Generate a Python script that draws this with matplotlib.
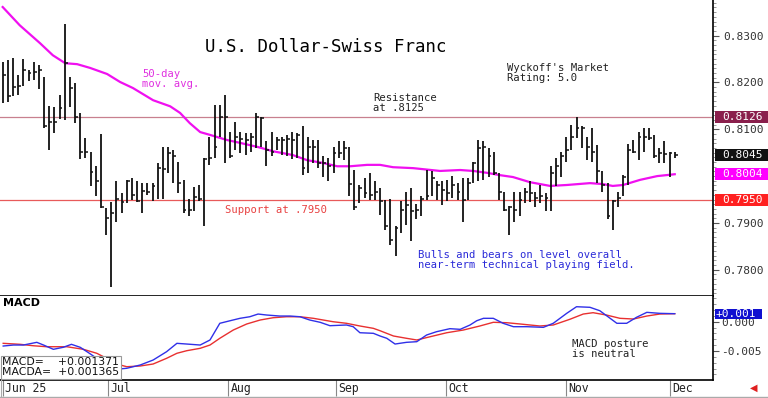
import matplotlib
matplotlib.use("Agg")
import matplotlib.pyplot as plt
from matplotlib.patches import Rectangle
from matplotlib.lines import Line2D

# daily bars, trading-day index 0 = Jun 2 2025 ... last = Dec 2
high = [0.8244, 0.8248, 0.8252, 0.8216, 0.8249, 0.8227, 0.8244, 0.8237, 0.8211, 0.8150,
        0.8148, 0.8173, 0.8325, 0.8212, 0.8198, 0.8134, 0.8081, 0.8052, 0.8021, 0.8090,
        0.7932, 0.7944, 0.7989, 0.7964, 0.7992, 0.7996, 0.7989, 0.7986, 0.7986, 0.7986,
        0.8028, 0.8063, 0.8063, 0.8055, 0.8031, 0.7992, 0.7951, 0.7976, 0.7981, 0.8038,
        0.8083, 0.8152, 0.8152, 0.8173, 0.8095, 0.8116, 0.8095, 0.8092, 0.8092, 0.8134,
        0.8127, 0.8074, 0.8095, 0.8084, 0.8084, 0.8088, 0.8095, 0.8093, 0.8106, 0.8084,
        0.8077, 0.8077, 0.8042, 0.8038, 0.8063, 0.8074, 0.8074, 0.8063, 0.8013, 0.7981,
        0.7996, 0.8006, 0.7989, 0.7974, 0.7949, 0.7951, 0.7893, 0.7946, 0.7967, 0.7974,
        0.7941, 0.7957, 0.8013, 0.8010, 0.7989, 0.7989, 0.7992, 0.8001, 0.7986, 0.7996,
        0.7996, 0.8031, 0.8077, 0.8074, 0.8060, 0.8052, 0.8006, 0.7967, 0.7937, 0.7965,
        0.7965, 0.7974, 0.7989, 0.7967, 0.7981, 0.7964, 0.8021, 0.8038, 0.8052, 0.8084,
        0.8109, 0.8126, 0.8106, 0.8084, 0.8102, 0.8067, 0.8010, 0.7985, 0.7949, 0.7967,
        0.8003, 0.8069, 0.8077, 0.8095, 0.8102, 0.8102, 0.8088, 0.8060, 0.8074, 0.8052,
        0.8052]
low = [0.8156, 0.8159, 0.8170, 0.8173, 0.8193, 0.8202, 0.8205, 0.8185, 0.8102, 0.8056,
       0.8093, 0.8121, 0.8120, 0.8148, 0.8114, 0.8036, 0.8038, 0.7978, 0.7957, 0.7932,
       0.7875, 0.7763, 0.7901, 0.7921, 0.7942, 0.7949, 0.7944, 0.7921, 0.7960, 0.7946,
       0.7951, 0.7951, 0.8006, 0.7985, 0.7964, 0.7921, 0.7914, 0.7925, 0.7946, 0.7893,
       0.8024, 0.8038, 0.8084, 0.8029, 0.8038, 0.8056, 0.8049, 0.8045, 0.8052, 0.8060,
       0.8063, 0.8021, 0.8042, 0.8056, 0.8045, 0.8042, 0.8036, 0.8038, 0.8003, 0.8006,
       0.8028, 0.8017, 0.7999, 0.7989, 0.8006, 0.8038, 0.8035, 0.7957, 0.7928, 0.7942,
       0.7953, 0.7949, 0.7949, 0.7917, 0.7885, 0.7853, 0.7829, 0.7878, 0.7896, 0.7861,
       0.7908, 0.7914, 0.7949, 0.7957, 0.7949, 0.7939, 0.7946, 0.7953, 0.7949, 0.7903,
       0.7949, 0.7985, 0.7989, 0.7992, 0.7999, 0.8003, 0.7949, 0.7925, 0.7875, 0.7903,
       0.7914, 0.7942, 0.7944, 0.7935, 0.7942, 0.7925, 0.7925, 0.7978, 0.7999, 0.8031,
       0.8056, 0.8081, 0.8060, 0.8035, 0.8031, 0.7985, 0.7967, 0.7908, 0.7885, 0.7935,
       0.7957, 0.7981, 0.8049, 0.8035, 0.8052, 0.8077, 0.8038, 0.8028, 0.8028, 0.7998,
       0.8038]
close = [0.8216, 0.8170, 0.8191, 0.8193, 0.8227, 0.8221, 0.8223, 0.8227, 0.8106, 0.8116,
         0.8116, 0.8145, 0.8241, 0.8188, 0.8127, 0.8052, 0.8052, 0.8008, 0.7989, 0.7935,
         0.7910, 0.7921, 0.7951, 0.7944, 0.7989, 0.7960, 0.7946, 0.7969, 0.7967, 0.7978,
         0.8017, 0.8015, 0.8049, 0.8042, 0.7985, 0.7927, 0.7927, 0.7955, 0.7952, 0.8036,
         0.8038, 0.8063, 0.8127, 0.8126, 0.8042, 0.8084, 0.8079, 0.8077, 0.8084, 0.8127,
         0.8124, 0.8056, 0.8052, 0.8077, 0.8077, 0.8079, 0.8077, 0.8088, 0.8017, 0.8063,
         0.8063, 0.8029, 0.8028, 0.8021, 0.8049, 0.8049, 0.8060, 0.7984, 0.7935, 0.7974,
         0.7964, 0.7960, 0.7967, 0.7946, 0.7893, 0.7864, 0.7889, 0.7927, 0.7939, 0.7925,
         0.7927, 0.7951, 0.7957, 0.7996, 0.7981, 0.7971, 0.7964, 0.7981, 0.7967, 0.7949,
         0.7985, 0.8028, 0.8060, 0.8063, 0.8042, 0.8006, 0.7967, 0.7927, 0.7934, 0.7928,
         0.7949, 0.7965, 0.7964, 0.7953, 0.7957, 0.7953, 0.8006, 0.8021, 0.8042, 0.8056,
         0.8084, 0.8102, 0.8102, 0.8063, 0.8052, 0.8010, 0.7981, 0.7914, 0.7946, 0.7953,
         0.7999, 0.8056, 0.8052, 0.8084, 0.8084, 0.8081, 0.8042, 0.8049, 0.8048, 0.8049,
         0.8045]

# 50-day moving average
ma_idx = [0, 3.3, 7.2, 9.7, 12.1, 14.4, 16.9, 20.2, 22.7, 25.2, 29.1, 32.4, 34.3, 36.2, 38.2,
          40.1, 43.4, 45.9, 49.4, 52.3, 56.1, 58.9, 62.0, 64.7, 67.2, 70.5, 73.0, 75.5, 79.4,
          84.6, 88.5, 91.0, 93.7, 96.2, 98.7, 102.0, 105.9, 109.1, 113.6, 116.1, 118.0, 120.0,
          123.3, 126.6, 130.0]
ma_val = [0.8361, 0.8322, 0.8284, 0.8258, 0.8241, 0.8239, 0.8231, 0.8218, 0.8201, 0.8188,
          0.8162, 0.8149, 0.8135, 0.8113, 0.8094, 0.8088, 0.8077, 0.8071, 0.8062, 0.8053,
          0.8045, 0.8034, 0.8028, 0.8021, 0.8021, 0.8024, 0.8024, 0.8019, 0.8017, 0.8011,
          0.8013, 0.8011, 0.8007, 0.8002, 0.7998, 0.7987, 0.7979, 0.7981, 0.7985, 0.7983,
          0.7979, 0.7981, 0.7992, 0.8000, 0.8004]

# MACD (blue) and its average (red)
macd_idx = [0.1, 2.1, 4.0, 6.6, 7.9, 9.8, 11.7, 13.3, 15.0, 16.6, 18.2, 20.1, 22.0, 24.0,
            26.6, 29.1, 31.7, 33.7, 35.6, 38.2, 40.1, 42.0, 44.0, 45.9, 47.8, 49.4, 51.1,
            53.6, 55.6, 57.5, 59.4, 61.4, 63.3, 66.5, 67.8, 69.1, 71.7, 73.0, 74.3, 75.9,
            76.8, 78.1, 80.1, 82.0, 83.9, 86.5, 88.5, 90.4, 91.7, 93.0, 94.9, 96.8, 98.8,
            101.4, 104.6, 106.5, 109.1, 111.0, 113.6, 115.5, 117.5, 118.8, 120.7, 122.6,
            124.6, 127.1, 130.0]
macd_val = [-0.00415, -0.00398, -0.00398, -0.00352, -0.00398, -0.00471, -0.00437, -0.00386,
            -0.00437, -0.00529, -0.00625, -0.00768, -0.00812, -0.00795, -0.00739, -0.00654,
            -0.00512, -0.00369, -0.00381, -0.00398, -0.00312, -0.00027, 0.00017, 0.00058,
            0.00085, 0.00131, 0.00114, 0.00097, 0.00097, 0.00085, 0.00029, -0.00010,
            -0.00068, -0.00056, -0.00085, -0.00188, -0.00198, -0.00244, -0.00283, -0.00381,
            -0.00369, -0.00352, -0.00341, -0.00227, -0.00171, -0.00119, -0.00130, -0.00056,
            0.00017, 0.00058, 0.00058, -0.00027, -0.00085, -0.00085, -0.00096, -0.00027,
            0.00143, 0.00256, 0.00246, 0.00188, 0.00058, -0.00027, -0.00027, 0.00075,
            0.00160, 0.00143, 0.00137]
sig_idx = [0.1, 3.4, 5.9, 8.5, 12.4, 15.6, 18.2, 20.1, 22.0, 24.0, 26.6, 29.1, 31.7, 33.7,
           35.6, 38.2, 40.1, 42.0, 44.6, 47.2, 49.8, 52.3, 54.9, 57.5, 60.1, 63.9, 66.5,
           69.1, 71.7, 73.0, 75.6, 78.1, 80.1, 82.7, 85.9, 89.1, 92.3, 94.9, 97.5, 100.1,
           103.9, 106.5, 109.7, 112.3, 114.2, 116.8, 119.4, 122.0, 124.6, 127.1, 130.0]
sig_val = [-0.00369, -0.00386, -0.00410, -0.00427, -0.00427, -0.00471, -0.00539, -0.00625,
           -0.00722, -0.00768, -0.00756, -0.00722, -0.00625, -0.00539, -0.00495, -0.00454,
           -0.00398, -0.00283, -0.00142, -0.00039, 0.00029, 0.00068, 0.00085, 0.00085,
           0.00058, 0.00000, -0.00027, -0.00073, -0.00113, -0.00154, -0.00244, -0.00283,
           -0.00312, -0.00256, -0.00188, -0.00142, -0.00073, -0.00010, -0.00017, -0.00039,
           -0.00073, -0.00056, 0.00041, 0.00131, 0.00154, 0.00114, 0.00058, 0.00046,
           0.00097, 0.00131, 0.00137]

month_pos = [0, 20.4, 43.6, 64.5, 85.7, 109, 129.1]
month_lbl = ["Jun 25", "Jul", "Aug", "Sep", "Oct", "Nov", "Dec"]
price_ticks = [0.78, 0.79, 0.81, 0.82, 0.83]
macd_ticks = [-0.005, 0.0]

resistance = 0.8126
support = 0.7950
last_close = 0.8045
last_ma = 0.8004
last_macd = 0.001371
last_macda = 0.001365

MONO = "DejaVu Sans Mono"
LBL = 8.0
W, H = 768, 398
idx = list(range(len(close)))

fig = plt.figure(figsize=(W / 100, H / 100), dpi=100)
ax = fig.add_axes([0, 1 - 296 / H, 713 / W, 296 / H])
axm = fig.add_axes([0, 1 - 380 / H, 713 / W, 84 / H], sharex=ax)

# --- price panel ---
ax.axhline(resistance, color="#c8808f", lw=0.9, zorder=1)
ax.axhline(support, color="#e85a5a", lw=0.9, zorder=1)
ax.vlines(idx, low, high, color="#111111", lw=1.3, zorder=3)
ax.hlines(close, [i for i in idx], [i + 0.55 for i in idx], color="#111111", lw=1.1, zorder=3)
ax.plot(ma_idx, ma_val, color="#f010f0", lw=1.6, zorder=2)

ax.set_xlim(-0.52, 137.4)
ax.set_ylim(0.7744, 0.8376)
for s in ("top", "left"):
    ax.spines[s].set_visible(False)
for s in ("right", "bottom"):
    ax.spines[s].set_linewidth(1.2)
ax.yaxis.tick_right()
ax.set_yticks(price_ticks)
ax.set_yticklabels([f"{v:.4f}" for v in price_ticks], fontfamily=MONO, fontsize=LBL, color="#333333")
ax.yaxis.set_minor_locator(plt.MultipleLocator(0.001))
ax.tick_params(axis="y", which="major", length=4, pad=3.5, color="#555555")
ax.tick_params(axis="y", which="minor", length=2, color="#888888")
ax.tick_params(axis="x", which="both", bottom=False, labelbottom=False)

# value boxes on the price scale
boxes = [(resistance, "#8a1f4c"), (last_close, "#111111"), (last_ma, "#ff00ff"), (support, "#ff2020")]
ytr = ax.get_yaxis_transform()
for v, c in boxes:
    ax.add_patch(Rectangle((1.003, v - 0.00128), 53 / 713, 0.00256, transform=ytr,
                           facecolor=c, edgecolor="none", clip_on=False, zorder=5))
    ax.text(1.0 + 9 / 713, v, f"{v:.4f}", transform=ytr, ha="left", va="center",
            fontfamily=MONO, fontsize=LBL, color="white", zorder=6, clip_on=False)

# annotations
ax.text(0.457, 0.841, "U.S. Dollar-Swiss Franc", transform=ax.transAxes, ha="center",
        va="center", fontfamily=MONO, fontsize=12.5, color="black")
ax.text(142 / 713, 1 - 69 / 296, "50-day\nmov. avg.", transform=ax.transAxes, ha="left",
        va="top", fontfamily=MONO, fontsize=7.6, color="#e030e0", linespacing=1.0)
ax.text(373 / 713, 1 - 93 / 296, "Resistance\nat .8125", transform=ax.transAxes, ha="left",
        va="top", fontfamily=MONO, fontsize=7.6, color="#222222", linespacing=1.0)
ax.text(507 / 713, 1 - 63 / 296, "Wyckoff's Market\nRating: 5.0", transform=ax.transAxes,
        ha="left", va="top", fontfamily=MONO, fontsize=7.6, color="#222222", linespacing=1.0)
ax.text(225 / 713, 1 - 210 / 296, "Support at .7950", transform=ax.transAxes, ha="left",
        va="center", fontfamily=MONO, fontsize=7.6, color="#e84040")
ax.text(418 / 713, 1 - 250 / 296, "Bulls and bears on level overall\nnear-term technical playing field.",
        transform=ax.transAxes, ha="left", va="top", fontfamily=MONO, fontsize=7.6,
        color="#2a2ad8", linespacing=1.0)

# --- MACD panel ---
axm.plot(sig_idx, sig_val, color="#e83030", lw=1.0, zorder=2)
axm.plot(macd_idx, macd_val, color="#3030e8", lw=1.0, zorder=3)
axm.set_ylim(-0.00995, 0.00439)
for s in ("top", "left"):
    axm.spines[s].set_visible(False)
for s in ("right", "bottom"):
    axm.spines[s].set_linewidth(1.2)
axm.yaxis.tick_right()
axm.set_yticks(macd_ticks)
axm.set_yticklabels([f"{v:.3f}" for v in macd_ticks], fontfamily=MONO, fontsize=LBL, color="#333333")
axm.yaxis.set_minor_locator(plt.MultipleLocator(0.001))
axm.tick_params(axis="y", which="major", length=4, pad=2, color="#555555")
axm.tick_params(axis="y", which="minor", length=2, color="#888888")

axm.set_xticks(month_pos)
axm.set_xticklabels([])
axm.tick_params(axis="x", which="major", length=11.5, width=0.8, color="#888888")
xtr = axm.get_xaxis_transform()
for p, lbl in zip(month_pos, month_lbl):
    axm.text(p + 0.45, -0.1, lbl, transform=xtr, ha="left", va="center",
             fontfamily=MONO, fontsize=8.3, color="#222222", clip_on=False)

ytm = axm.get_yaxis_transform()
axm.add_patch(Rectangle((1.003, last_macd - 0.00085), 47 / 713, 0.0017, transform=ytm,
                        facecolor="#1010d0", edgecolor="none", clip_on=False, zorder=5))
axm.text(1.0 + 3 / 713, last_macd, "+0.001", transform=ytm, ha="left", va="center",
         fontfamily=MONO, fontsize=LBL, color="white", zorder=6, clip_on=False)

axm.text(3 / 713, (380 - 303) / 84, "MACD", transform=axm.transAxes, ha="left", va="center",
         fontsize=8, fontweight="bold", color="black")
axm.text(572 / 713, (380 - 339) / 84, "MACD posture\nis neutral", transform=axm.transAxes,
         ha="left", va="top", fontfamily=MONO, fontsize=7.6, color="#222222", linespacing=1.0)
axm.text(0.003, 0.03, f"MACD=    {last_macd:+.6f}\nMACDA=  {last_macda:+.6f}",
         transform=axm.transAxes, ha="left", va="bottom", fontsize=7.8, color="#111111",
         linespacing=1.0, zorder=7,
         bbox=dict(boxstyle="square,pad=0.15", facecolor="white", edgecolor="#999999", lw=0.8))

# frame bottom and the little red arrow
fig.add_artist(Line2D([0, 1], [1.5 / H, 1.5 / H], color="#aaaaaa", lw=1.0))
fig.add_artist(Line2D([0.001, 0.001], [1.5 / H, 1 - 380 / H], color="#aaaaaa", lw=0.8))
fig.text(0.981, 1 - 388 / H, "\u25c0", color="#e02020", fontsize=7, ha="center", va="center")

fig.savefig("out.png", dpi=100)
